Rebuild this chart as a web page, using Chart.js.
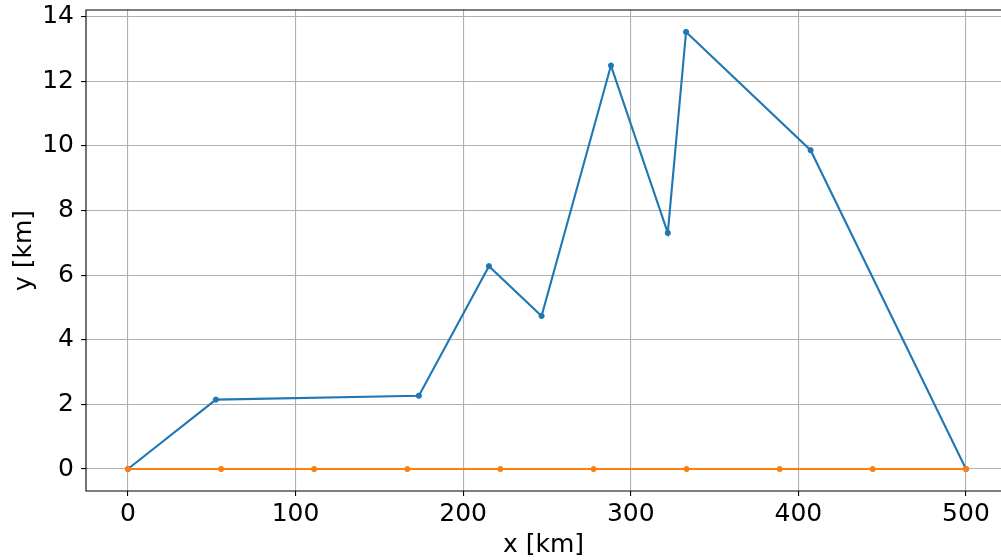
<!DOCTYPE html>
<html>
<head>
<meta charset="utf-8">
<script src="https://cdn.jsdelivr.net/npm/chart.js@4"></script>
<style>
  html, body { margin: 0; padding: 0; overflow: hidden; background: #fff; }
  #c { display: block; }
</style>
</head>
<body>
<canvas id="c" width="1001" height="560"></canvas>
<script>
// Terrain profile: distance along the section [km] and height [km]
const profileX = [0, 52.5, 173.6, 215.4, 246.8, 288.2, 322.1, 333.0, 407.3, 500];
const profileY = [0, 2.15, 2.27, 6.28, 4.74, 12.49, 7.31, 13.53, 9.87, 0];

// Flat reference line with evenly spaced nodes
const baseX = [0, 55.6, 111.1, 166.7, 222.2, 277.8, 333.3, 388.9, 444.4, 500];
const baseY = [0, 0, 0, 0, 0, 0, 0, 0, 0, 0];

const xTicks = [0, 100, 200, 300, 400, 500];
const yTicks = [0, 2, 4, 6, 8, 10, 12, 14];

const toPoints = (xs, ys) => xs.map((x, i) => ({ x: x, y: ys[i] }));

const FONT = "'DejaVu Sans', sans-serif";

// Left, top and bottom spines; the right spine lies past the canvas edge
const frame = {
  id: 'frame',
  afterDatasetsDraw(chart) {
    const { ctx, chartArea: a } = chart;
    ctx.save();
    ctx.strokeStyle = '#000';
    ctx.lineWidth = 1.1;
    ctx.beginPath();
    ctx.moveTo(a.right + 2, a.top);
    ctx.lineTo(a.left, a.top);
    ctx.lineTo(a.left, a.bottom);
    ctx.lineTo(a.right + 2, a.bottom);
    ctx.stroke();
    ctx.restore();
  }
};

new Chart(document.getElementById('c'), {
  type: 'line',
  data: {
    datasets: [
      {
        data: toPoints(profileX, profileY),
        borderColor: '#1f77b4',
        backgroundColor: '#1f77b4',
        borderWidth: 2.1,
        pointRadius: 2.6,
        pointBorderWidth: 1,
        pointHoverRadius: 2.6,
        tension: 0,
        order: 1
      },
      {
        data: toPoints(baseX, baseY),
        borderColor: '#ff7f0e',
        backgroundColor: '#ff7f0e',
        borderWidth: 2.1,
        pointRadius: 2.6,
        pointBorderWidth: 1,
        pointHoverRadius: 2.6,
        tension: 0,
        order: 0
      }
    ]
  },
  options: {
    responsive: false,
    animation: false,
    devicePixelRatio: 1,
    layout: { autoPadding: false, padding: { top: 10, left: 0, right: 0, bottom: 0 } },
    plugins: {
      legend: { display: false },
      tooltip: { enabled: false }
    },
    scales: {
      x: {
        type: 'linear',
        min: -25,
        max: 520.9,
        afterBuildTicks(scale) { scale.ticks = xTicks.map(v => ({ value: v })); },
        afterFit(scale) {
          scale.height = 69;
          scale.paddingLeft = 0;
          scale.paddingRight = 0;
        },
        grid: {
          color: '#b0b0b0',
          lineWidth: 1.1,
          drawTicks: true,
          tickLength: 5,
          tickColor: '#000',
          tickWidth: 1.1
        },
        border: { display: false },
        ticks: {
          color: '#000',
          padding: 3,
          maxRotation: 0,
          font: { family: FONT, size: 25 }
        },
        title: {
          display: true,
          text: 'x [km]',
          color: '#000',
          padding: { top: 0, bottom: 0 },
          font: { family: FONT, size: 25 }
        }
      },
      y: {
        type: 'linear',
        min: -0.68,
        max: 14.21,
        afterBuildTicks(scale) { scale.ticks = yTicks.map(v => ({ value: v })); },
        afterFit(scale) {
          scale.width = 86;
          scale.paddingTop = 0;
          scale.paddingBottom = 0;
        },
        grid: {
          color: '#b0b0b0',
          lineWidth: 1.1,
          drawTicks: true,
          tickLength: 5,
          tickColor: '#000',
          tickWidth: 1.1
        },
        border: { display: false },
        ticks: {
          color: '#000',
          padding: 7,
          font: { family: FONT, size: 25 }
        },
        title: {
          display: true,
          text: 'y [km]',
          color: '#000',
          padding: { top: 9, bottom: 0 },
          font: { family: FONT, size: 25 }
        }
      }
    }
  },
  plugins: [frame]
});
</script>
</body>
</html>
